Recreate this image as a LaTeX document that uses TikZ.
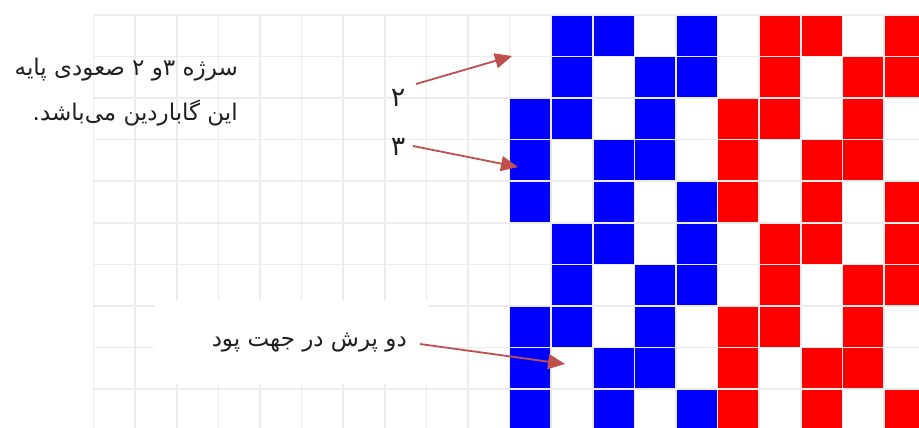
\documentclass[tikz,border=0pt]{standalone}
\usepackage{fontspec}
\usetikzlibrary{arrows.meta}
\newfontfamily\arabicfont[Script=Arabic]{DejaVu Sans}
\TeXXeTstate=1
\definecolor{gridgray}{RGB}{236,236,236}
\definecolor{arrowred}{RGB}{192,80,77}
\definecolor{cellblue}{RGB}{0,0,255}
\definecolor{cellred}{RGB}{255,0,0}
\definecolor{textdark}{RGB}{35,31,32}
\tikzset{
  gridline/.style={draw=gridgray, line width=1.5pt},
  bluecell/.style={fill=cellblue},
  redcell/.style={fill=cellred},
  pointer/.style={draw=arrowred, line width=1.8pt, -{Triangle[length=17pt,width=15pt]}},
  fatext/.style={text=textdark, inner sep=0pt, font=\arabicfont\fontsize{23}{45}\selectfont},
  digit/.style={text=textdark, inner sep=0pt, font=\arabicfont\fontsize{27}{30}\selectfont},
}
\begin{document}
\begin{tikzpicture}[x=1pt,y=-1pt]
\useasboundingbox (0,0) rectangle (919,428);
\fill[white] (0,0) rectangle (919,428);
% coloured cells (5x5 repeat, red = blue shifted by 5 columns)
\foreach \r/\cols in {0/{1,2,4},1/{1,3,4},2/{0,1,3},3/{0,2,3},4/{0,2,4}}{
  \foreach \rr in {\r, \numexpr\r+5\relax}{
    \foreach \c in \cols {
      \fill[bluecell] ({93.6+(10+\c)*41.6},{15+\rr*41.55}) rectangle ++(41.6,41.55);
      \fill[redcell] ({93.6+(15+\c)*41.6},{15+\rr*41.55}) rectangle ++(41.6,41.55);
    }
  }
}
% grid
\foreach \i in {0,...,19}
  \draw[gridline] ({93.6+\i*41.6},15) -- ({93.6+\i*41.6},428);
\foreach \j in {0,...,9}
  \draw[gridline] (93.6,{15+\j*41.55}) -- (919,{15+\j*41.55});
% white patch behind lower label
\fill[white] (154,300) rectangle (428,384);
% texts
\node[fatext, anchor=east, align=right] (desc) at (238,92)
  {\beginR سرژه ۳و ۲ صعودی پایه\endR\\\beginR این گاباردین می‌باشد.\endR};
\node[digit] (two) at (398,98) {\beginR ۲\endR};
\node[digit] (three) at (398,147) {\beginR ۳\endR};
\node[fatext, anchor=east] (jump) at (407,343) {\beginR دو پرش در جهت پود\endR};
% arrow ends
\coordinate (twoS) at (416,84);
\coordinate (twoE) at (512,56);
\coordinate (threeS) at (413,146);
\coordinate (threeE) at (518,167);
\coordinate (jumpS) at (420,344);
\coordinate (jumpE) at (565,364);
\draw[pointer] (twoS) -- (twoE);
\draw[pointer] (threeS) -- (threeE);
\draw[pointer] (jumpS) -- (jumpE);
\end{tikzpicture}
\end{document}
